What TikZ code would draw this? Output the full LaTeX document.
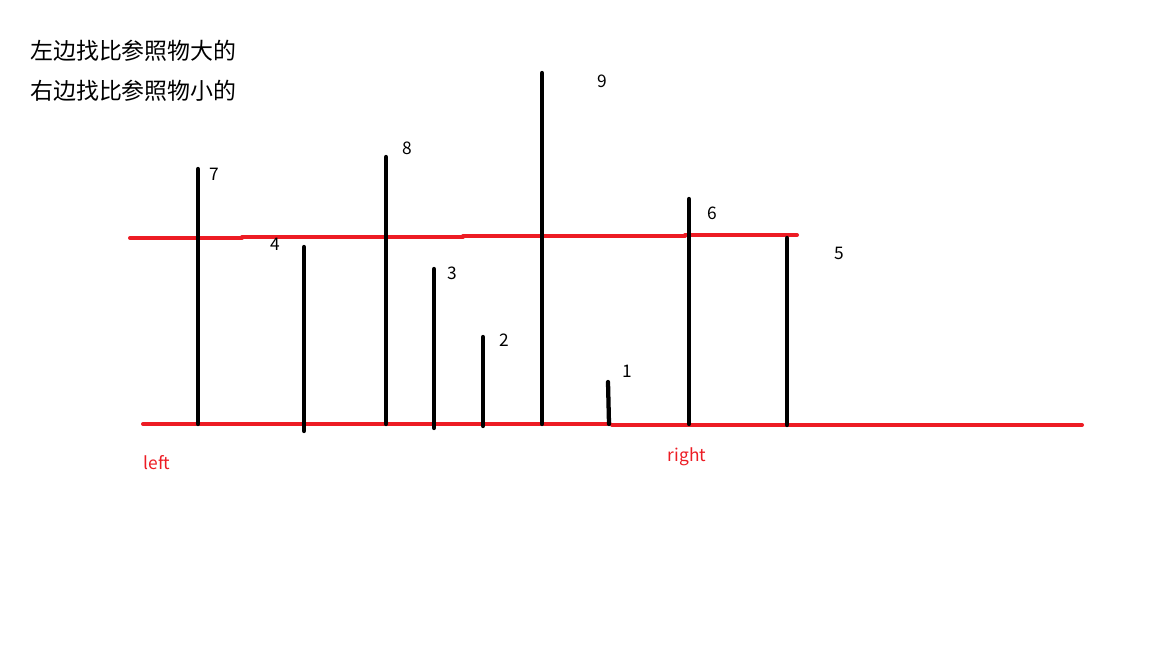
\documentclass[tikz,border=0pt]{standalone}
\usepackage{fontspec}
\setmainfont{Noto Sans CJK SC}
\definecolor{pred}{HTML}{ED1C24}
\tikzset{
  redline/.style={draw=pred, line width=3pt, line cap=round},
  bar/.style={draw=black, line width=3.2pt, line cap=round},
  num/.style={font=\fontsize{13}{15}\selectfont, text=black, inner sep=0pt},
  redlbl/.style={font=\fontsize{13}{15}\selectfont, text=pred, inner sep=0pt},
  title/.style={font=\fontsize{17.2}{20}\selectfont, text=black, inner sep=0pt, anchor=west}
}
\begin{document}
\begin{tikzpicture}[x=0.75pt,y=-0.75pt]
\useasboundingbox[fill=white] (0,0) rectangle (1152,648);
% titles
\node[title] (t1) at (30,51) {左边找比参照物大的};
\node[title] (t2) at (30,91) {右边找比参照物小的};
% upper red line
\coordinate (u0) at (130,238); \coordinate (u1) at (242,238);
\coordinate (u2) at (242,237); \coordinate (u3) at (463,237);
\coordinate (u4) at (463,236); \coordinate (u5) at (685,236);
\coordinate (u6) at (685,235); \coordinate (u7) at (797,235);
\draw[redline] (u0) -- (u1);
\draw[redline] (u2) -- (u3);
\draw[redline] (u4) -- (u5);
\draw[redline] (u6) -- (u7);
% lower red line
\coordinate (l0) at (143,424); \coordinate (l1) at (610,424);
\coordinate (l2) at (612,425); \coordinate (l3) at (1082,425);
\draw[redline] (l0) -- (l1);
\draw[redline] (l2) -- (l3);
% bars
\coordinate (b7t) at (198,169); \coordinate (b7b) at (198,424);
\coordinate (b4t) at (304,247); \coordinate (b4b) at (304,431);
\coordinate (b8t) at (386,157); \coordinate (b8b) at (386,424);
\coordinate (b3t) at (434,269); \coordinate (b3b) at (434,428);
\coordinate (b2t) at (483,337); \coordinate (b2b) at (483,426);
\coordinate (b9t) at (542,73);  \coordinate (b9b) at (542,424);
\coordinate (b1t) at (608,382); \coordinate (b1b) at (609,424);
\coordinate (b6t) at (689,199); \coordinate (b6b) at (689,424);
\coordinate (b5t) at (787,238); \coordinate (b5b) at (787,425);
\draw[bar] (b7t) -- (b7b);
\draw[bar] (b4t) -- (b4b);
\draw[bar] (b8t) -- (b8b);
\draw[bar] (b3t) -- (b3b);
\draw[bar] (b2t) -- (b2b);
\draw[bar] (b9t) -- (b9b);
\draw[bar] (b1t) -- (b1b);
\draw[bar] (b6t) -- (b6b);
\draw[bar] (b5t) -- (b5b);
% numbers
\node[num] (n7) at (214,174) {7};
\node[num] (n4) at (275,244) {4};
\node[num] (n8) at (407,148) {8};
\node[num] (n3) at (452,273) {3};
\node[num] (n2) at (504,340) {2};
\node[num] (n9) at (602,81) {9};
\node[num] (n1) at (627,371) {1};
\node[num] (n6) at (712,213) {6};
\node[num] (n5) at (839,253) {5};
% red labels
\node[redlbl] (left) at (157,463) {left};
\node[redlbl] (right) at (687,457) {right};
\end{tikzpicture}
\end{document}
